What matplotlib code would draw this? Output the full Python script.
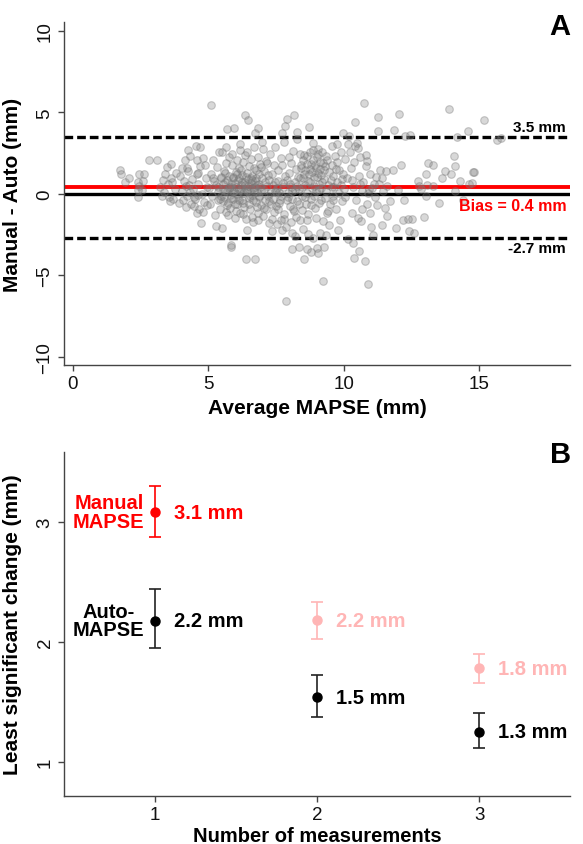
import matplotlib
matplotlib.use("Agg")
import matplotlib.pyplot as plt

plt.rcParams['font.family'] = ['Liberation Sans', 'DejaVu Sans']

# ---------------- Panel A data (Bland-Altman) ----------------
avg_mapse = [
    1.73, 1.76, 1.92, 2.07, 2.45, 2.62, 2.39, 2.60, 2.42, 2.40,
    2.56, 2.41, 2.80, 3.10, 3.32, 3.46, 3.60, 3.60, 3.41, 3.50,
    3.20, 3.35, 3.55, 3.70, 3.75, 3.30, 3.65, 3.80, 3.58, 3.91,
    4.24, 4.12, 4.19, 4.53, 4.70, 4.57, 4.46, 4.59, 4.71, 3.95,
    4.01, 4.07, 4.11, 4.16, 4.22, 4.26, 4.31, 4.36, 4.41, 4.44,
    4.51, 4.56, 4.61, 4.64, 4.69, 4.76, 4.81, 4.84, 4.91, 4.96,
    4.02, 4.18, 4.33, 4.48, 4.63, 4.78, 4.93, 4.27, 4.62, 4.88,
    5.02, 5.05, 5.08, 5.11, 5.14, 5.17, 5.20, 5.23, 5.26, 5.29,
    5.31, 5.34, 5.37, 5.40, 5.43, 5.46, 5.49, 5.51, 5.53, 5.56,
    5.58, 5.61, 5.63, 5.66, 5.67, 5.69, 5.72, 5.74, 5.77, 5.79,
    5.81, 5.82, 5.82, 5.84, 5.87, 5.89, 5.92, 5.94, 5.96, 5.98,
    6.00, 6.02, 6.04, 6.06, 6.08, 6.10, 6.12, 6.14, 6.16, 6.18,
    6.20, 6.22, 6.24, 6.26, 6.28, 6.30, 6.32, 6.34, 6.35, 6.37,
    6.38, 6.40, 6.41, 6.43, 6.45, 6.46, 6.48, 6.50, 6.52, 6.54,
    6.56, 6.58, 6.60, 6.62, 6.64, 6.66, 6.68, 6.70, 6.72, 6.73,
    6.75, 6.77, 6.79, 6.81, 6.83, 6.84, 6.86, 6.88, 6.90, 6.92,
    6.94, 6.96, 6.98, 7.00, 7.02, 7.04, 7.06, 7.08, 7.10, 7.12,
    7.14, 7.16, 7.18, 7.20, 7.22, 7.24, 7.26, 7.28, 7.30, 7.33,
    7.35, 7.37, 7.39, 7.41, 7.43, 7.45, 7.47, 7.49, 5.15, 5.45,
    5.55, 5.62, 5.70, 5.78, 5.85, 5.90, 5.97, 6.05, 6.11, 6.19,
    6.25, 6.31, 6.39, 6.47, 6.53, 6.61, 6.67, 6.74, 6.80, 6.87,
    5.52, 5.60, 5.68, 5.76, 5.83, 5.91, 5.99, 6.07, 6.13, 6.21,
    6.27, 6.33, 6.42, 6.49, 6.57, 6.63, 6.71, 6.78, 6.85, 6.93,
    5.35, 5.42, 5.48, 5.65, 5.73, 5.88, 6.01, 6.15, 6.29, 6.44,
    6.59, 6.69, 6.82, 6.95, 7.05, 7.15, 7.25, 7.36, 7.44, 7.48,
    7.52, 7.55, 7.58, 7.61, 7.64, 7.67, 7.70, 7.73, 7.76, 7.79,
    7.82, 7.85, 7.88, 7.91, 7.94, 7.97, 8.00, 8.03, 8.06, 8.07,
    8.07, 8.10, 8.13, 8.16, 8.17, 8.20, 8.23, 8.26, 8.28, 8.31,
    8.34, 8.35, 8.38, 8.38, 8.41, 8.44, 8.47, 8.50, 8.52, 8.55,
    8.58, 8.61, 8.62, 8.62, 8.65, 8.68, 8.71, 8.72, 8.74, 8.77,
    8.79, 8.80, 8.83, 8.86, 8.89, 8.92, 8.95, 8.98, 9.01, 9.02,
    9.04, 9.05, 9.05, 9.08, 9.11, 9.14, 9.17, 9.20, 9.21, 9.24,
    9.26, 9.27, 9.30, 9.33, 9.36, 9.39, 9.42, 9.45, 9.48, 9.51,
    9.54, 9.55, 9.58, 9.61, 9.64, 9.67, 9.70, 9.73, 9.76, 9.79,
    9.81, 9.82, 9.85, 9.88, 9.91, 9.94, 9.97, 9.98, 10.00, 10.03,
    7.57, 7.66, 7.74, 7.83, 7.92, 8.01, 8.09, 8.18, 8.27, 8.36,
    8.46, 8.54, 8.63, 8.73, 8.82, 8.91, 8.99, 9.09, 9.18, 9.28,
    8.42, 8.53, 8.64, 8.75, 8.85, 8.94, 9.03, 9.13, 9.23, 9.35,
    7.62, 7.71, 7.80, 7.89, 7.99, 8.12, 8.22, 8.33, 8.44, 8.57,
    8.69, 8.78, 8.88, 8.97, 9.07, 9.16, 9.31, 9.41, 9.57, 9.69,
    7.54, 7.69, 7.86, 8.04, 8.19, 8.48, 8.66, 8.87, 9.10, 9.32,
    9.44, 9.60, 9.75, 9.90, 10.05, 10.10, 10.15, 7.77, 8.25, 8.85,
    10.75, 11.27, 10.41, 11.27, 11.86, 10.20, 10.47, 10.50, 10.81, 10.84,
    11.33, 11.55, 11.82, 12.72, 12.78, 11.12, 11.30, 11.58, 10.94, 12.23,
    11.22, 11.53, 11.58, 10.28, 10.50, 10.63, 11.00, 11.39, 11.92, 12.17,
    12.35, 12.51, 12.39, 12.60, 11.08, 10.14, 10.32, 10.55, 10.36, 10.77,
    10.87, 10.25, 10.35, 10.45, 10.55, 10.65, 10.72, 10.85, 10.95, 11.05,
    10.22, 10.30, 10.38, 10.60, 10.68, 10.90, 11.15, 11.42, 11.70, 12.04,
    12.26, 12.44, 11.45, 10.42, 10.58, 10.80, 10.95, 11.18, 12.00, 12.10,
    13.89, 14.59, 14.17, 13.09, 13.27, 13.03, 13.74, 13.95, 14.05, 14.10,
    14.79, 14.28, 14.63, 13.05, 13.27, 14.08, 13.03, 15.17, 15.63, 15.79,
    14.77, 14.71, 12.85, 13.50, 13.60, 12.95, 14.40,
]
diff_mm = [
    1.45, 1.23, 0.72, 1.00, 1.19, 1.19, 0.72, 0.80, 0.47, 0.23,
    0.26, -0.18, 2.07, 2.10, 0.84, 1.66, 1.82, 0.99, 1.25, 0.60,
    0.40, 0.10, -0.20, -0.30, 0.30, -0.10, 0.70, 1.30, -0.45, -0.55,
    2.68, 2.07, 1.58, 2.96, 2.90, 2.07, -0.76, -1.17, -1.78, 1.10,
    0.20, -0.40, 0.80, 0.50, -0.10, 1.40, 0.10, -0.60, 0.90, 0.30,
    -0.30, 1.20, 0.60, -0.90, 1.70, 0.00, 2.20, -0.50, 1.00, 0.40,
    1.60, -0.80, 2.30, -0.20, 1.30, -1.10, -0.70, 0.55, -0.05, 1.80,
    0.35, -0.62, 5.44, 1.25, -0.15, 2.10, 0.80, -1.30, -1.98, 0.55,
    1.65, -0.40, 0.10, 2.60, -0.90, 0.95, 2.55, -2.10, 0.30, 1.40,
    -0.20, 0.75, -1.10, 1.90, 3.98, 0.15, -0.55, 1.10, 2.25, 0.45,
    -0.85, -3.13, -3.27, 0.60, 1.75, -0.30, 0.95, 4.07, 0.20, -1.45,
    1.35, 0.40, -0.65, 2.05, 0.85, -0.10, 1.60, 0.25, -1.20, 2.70,
    0.55, -0.40, 1.15, 0.05, 1.95, -0.80, 0.70, 2.40, 4.83, -4.00,
    0.30, -1.55, -2.20, 1.30, 4.52, 0.90, -0.25, 1.70, 0.45, -0.95,
    2.15, 0.65, -0.05, 1.10, -1.75, 0.35, 2.85, 0.80, -4.00, 3.74,
    -0.50, 1.45, 0.10, 2.25, -1.15, 4.07, 0.60, -0.20, 1.85, 0.40,
    -0.70, 3.17, 0.95, -1.35, 2.76, 0.25, 1.40, -0.35, 0.70, 2.00,
    -0.95, 0.50, 1.15, -0.15, -1.80, 0.85, 2.45, 0.05, -0.60, -2.30,
    1.20, -0.30, 0.55, 1.80, -1.10, 0.20, 2.90, -0.75, 0.95, -0.15,
    0.60, 0.20, 0.85, -0.05, 0.45, 1.05, 0.65, 0.00, 0.95, 0.30,
    0.75, 0.15, 1.05, 0.50, -0.15, 0.85, 0.20, 1.00, 0.55, -0.10,
    -0.45, 1.30, -0.70, 0.35, -0.25, 0.10, -0.60, 1.20, -0.35, 1.45,
    -0.55, 0.55, 0.20, -0.60, 0.95, -0.35, 0.45, -0.80, 1.25, 0.15,
    0.45, -0.30, 1.05, 2.90, -1.30, 2.45, -1.05, 3.05, -1.25, 2.60,
    -1.40, 1.60, -1.60, 1.65, -0.85, 1.90, -0.45, -1.55, 0.70, 0.10,
    0.35, -0.95, 1.45, 0.10, -0.40, 2.20, 3.74, -2.20, 0.65, -1.25,
    4.15, -6.56, 4.62, 0.85, -0.20, 1.30, -0.75, 0.40, 1.90, -3.40,
    -2.40, 0.15, 2.66, -1.05, 4.85, 0.70, 1.55, -0.45, 3.80, 1.05,
    0.30, -3.25, 2.45, -1.58, 1.75, -0.15, 0.95, 2.10, -3.97, 0.55,
    1.45, -0.65, -1.58, -3.36, 2.35, 0.80, 1.20, 4.09, 2.55, -0.30,
    -3.56, 1.85, 0.35, 2.70, 1.05, -0.85, 1.60, 0.20, 2.25, -3.32,
    1.30, 2.76, -3.63, 0.60, 1.95, -0.40, 1.15, 2.55, -5.33, -1.68,
    -3.25, 0.90, 1.70, 0.15, -1.17, 2.05, 0.55, 1.35, -0.60, 0.85,
    1.80, 2.93, -0.15, 1.10, 0.40, 2.34, -0.90, 3.04, 0.70, -2.20,
    1.45, 0.05, -1.58, 2.60, 0.90, -0.45, 1.25, 3.74, 0.30, 2.15,
    0.80, -0.10, 0.45, 1.10, 0.05, 0.60, -0.30, 0.25, 0.50, 0.95,
    0.40, 1.20, 0.05, 0.75, 1.35, 0.50, 1.05, 0.25, 0.70, 1.45,
    1.60, 2.40, 1.85, 1.50, 2.10, 1.75, 2.45, 1.55, 1.90, 2.30,
    -0.55, 1.75, -1.55, -0.40, 2.25, -0.90, -1.40, -0.60, -1.00, -0.20,
    -1.25, -0.70, -0.10, -1.45, -0.55, 0.35, -0.25, -1.05, 0.45, 1.55,
    -1.85, -1.60, -2.05, -1.70, -2.60, -2.15, -2.45, -2.70, -2.40, -2.55,
    -1.90, -0.35, 1.95, 0.55, -0.20, 1.00, 3.05, 3.20, 3.35, 3.15,
    5.58, 4.70, 4.42, 3.88, 3.94, 3.54, 3.13, 2.82, 2.41, 2.00,
    1.45, 1.39, 1.45, 0.82, 0.47, 0.58, 0.58, 0.47, 0.27, -0.39,
    -0.70, -0.86, -1.33, -1.20, -1.51, -1.68, -2.03, -1.94, -2.08, -1.58,
    -1.53, -1.53, -2.25, -2.39, -2.50, -2.76, -3.00, -3.48, -3.93, -4.10,
    -5.56, 1.60, 0.40, -0.35, 1.10, 0.15, 0.75, -0.60, 1.25, 0.35,
    2.60, 0.85, 1.95, 2.25, -0.90, 0.05, -0.20, 0.95, -0.45, 4.90,
    3.54, 3.64, 0.15, 2.95, 0.60, 1.70, -1.15, 1.05, 0.25, 1.80,
    5.21, 3.88, 3.47, 1.90, 1.80, 1.20, 1.39, 1.20, 2.31, 1.74,
    1.33, 0.77, 0.62, 0.55, 0.47, 0.16, -0.14, 4.56, 3.33, 3.44,
    1.33, 0.68, 0.30, -0.55, 0.95, -1.40, -0.35,
]
bias = 0.4
loa_upper = 3.5
loa_lower = -2.7

# ---------------- Panel B data (least significant change) ----------------
n_measurements = [1, 2, 3]
manual_lsc = [3.08, 2.18, 1.78]
manual_lo = [2.875, 2.025, 1.66]
manual_hi = [3.30, 2.33, 1.90]
manual_labels = ["3.1 mm", "2.2 mm", "1.8 mm"]
auto_lsc = [2.175, 1.54, 1.25]
auto_lo = [1.95, 1.375, 1.12]
auto_hi = [2.44, 1.72, 1.41]
auto_labels = ["2.2 mm", "1.5 mm", "1.3 mm"]

RED = "#ff0000"
PINK = "#ffb5b5"
AXC = "#444444"

fig = plt.figure(figsize=(5.83, 8.45), dpi=100)
axA = fig.add_axes([0.1098, 0.5669, 0.8679, 0.4059])
axB = fig.add_axes([0.1098, 0.0568, 0.8679, 0.4071])


def style_axes(ax):
    for s in ("top", "right"):
        ax.spines[s].set_visible(False)
    for s in ("left", "bottom"):
        ax.spines[s].set_color(AXC)
        ax.spines[s].set_linewidth(1.0)
    ax.tick_params(axis="both", direction="out", length=4.5, width=1.0,
                   color=AXC, labelsize=13.5, labelcolor="#111111", pad=3)
    for lab in ax.get_yticklabels():
        lab.set_rotation(90)
        lab.set_va("center")


# ---- Panel A ----
axA.axhline(0, color="black", lw=2.4, zorder=1)
axA.axhline(bias, color=RED, lw=2.8, zorder=1)
axA.axhline(loa_upper, color="black", lw=2.4, ls=(0, (2.6, 1.2)), zorder=1)
axA.axhline(loa_lower, color="black", lw=2.4, ls=(0, (2.6, 1.2)), zorder=1)
axA.scatter(avg_mapse, diff_mm, s=30, facecolor=(0.5, 0.5, 0.5, 0.3),
            edgecolor=(0.45, 0.45, 0.45, 0.38), linewidths=0.8, zorder=2)
axA.set_xlim(-0.33, 18.34)
axA.set_ylim(-10.5, 10.55)
axA.set_xticks([0, 5, 10, 15])
axA.set_yticks([-10, -5, 0, 5, 10])
style_axes(axA)
axA.set_xlabel("Average MAPSE (mm)", fontsize=15, fontweight="bold", labelpad=4)
axA.set_ylabel("Manual - Auto (mm)", fontsize=15, fontweight="bold", labelpad=4)
axA.yaxis.set_label_coords(-0.083, 0.5)
axA.text(18.2, 4.1, f"{loa_upper:.1f} mm", ha="right", va="center",
         fontsize=11, fontweight="bold", color="black")
axA.text(18.2, -0.72, f"Bias = {bias:.1f} mm", ha="right", va="center",
         fontsize=11.5, fontweight="bold", color=RED)
axA.text(18.2, -3.35, f"{loa_lower:.1f} mm", ha="right", va="center",
         fontsize=11, fontweight="bold", color="black")

# ---- Panel B ----
manual_colors = [RED, PINK, PINK]
for i, n in enumerate(n_measurements):
    axB.errorbar([n], [manual_lsc[i]],
                 yerr=[[manual_lsc[i] - manual_lo[i]], [manual_hi[i] - manual_lsc[i]]],
                 fmt="o", color=manual_colors[i], ms=6.5, capsize=4.6,
                 elinewidth=1.2, capthick=1.2, zorder=3)
    axB.text(n + 0.117, manual_lsc[i], manual_labels[i], ha="left", va="center",
             fontsize=14.5, fontweight="bold", color=manual_colors[i])
    axB.errorbar([n], [auto_lsc[i]],
                 yerr=[[auto_lsc[i] - auto_lo[i]], [auto_hi[i] - auto_lsc[i]]],
                 fmt="o", color="black", ecolor="#222222", ms=6.5, capsize=4.6,
                 elinewidth=1.2, capthick=1.2, zorder=3)
    axB.text(n + 0.117, auto_lsc[i], auto_labels[i], ha="left", va="center",
             fontsize=14.5, fontweight="bold", color="black")

axB.text(0.716, manual_lsc[0], "Manual\nMAPSE", ha="center", va="center",
         fontsize=14.5, fontweight="bold", color=RED, linespacing=0.95)
axB.text(0.716, auto_lsc[0], "Auto-\nMAPSE", ha="center", va="center",
         fontsize=14.5, fontweight="bold", color="black", linespacing=0.95)

axB.set_xlim(0.44, 3.56)
axB.set_ylim(0.717, 3.58)
axB.set_xticks(n_measurements)
axB.set_yticks([1, 2, 3])
style_axes(axB)
axB.set_xlabel("Number of measurements", fontsize=14.5, fontweight="bold", labelpad=2)
axB.set_ylabel("Least significant change (mm)", fontsize=15, fontweight="bold", labelpad=4)
axB.yaxis.set_label_coords(-0.083, 0.5)

fig.text(0.978, 0.968, "A", ha="right", va="center", fontsize=21, fontweight="bold")
fig.text(0.979, 0.461, "B", ha="right", va="center", fontsize=21, fontweight="bold")

fig.savefig("out.png", dpi=100)
